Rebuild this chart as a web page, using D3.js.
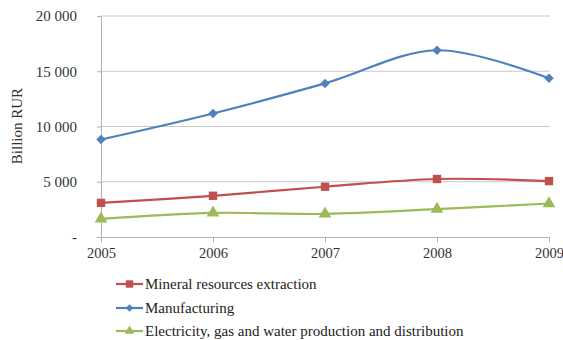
<!DOCTYPE html>
<html><head><meta charset="utf-8">
<script src="https://cdn.jsdelivr.net/npm/d3@7"></script>
<style>body{margin:0;background:#fff;}</style>
</head><body>
<svg id="c" width="563" height="340" font-family="Liberation Serif">
<text transform="translate(22,126) rotate(-90)" text-anchor="middle" font-family="Liberation Serif" font-size="15" fill="#333">Billion RUR</text>
</svg>
<script>
const years = ["2005","2006","2007","2008","2009"];
const mineral = [3090, 3730, 4550, 5250, 5060];
const manufacturing = [8820, 11180, 13900, 16900, 14360];
const electricity = [1640, 2180, 2090, 2520, 3030];
const yTicks = [0, 5000, 10000, 15000, 20000];
const seriesNames = ["Mineral resources extraction", "Manufacturing", "Electricity, gas and water production and distribution"];
const seriesColors = ["#C0504D", "#4F81BD", "#9BBB59"];

const FF = "Liberation Serif";
const svg = d3.select("#c");
const pL = 101, pR = 549, pT = 16, pB = 237;
const x = d3.scalePoint().domain(years).range([pL, pR]);
const y = d3.scaleLinear().domain([0, 20000]).range([pB, pT]);
const fmt = v => v === 0 ? "-" : d3.format(",")(v).replace(",", " ");
const shapes = [
  {type: d3.symbolSquare, rot: 0},
  {type: d3.symbolSquare, rot: 45},
  {type: d3.symbolTriangle, rot: 0}
];

svg.append("g").selectAll("line").data(yTicks.filter(d=>d>0)).join("line")
  .attr("x1", pL).attr("x2", pR + 1)
  .attr("y1", d => y(d)).attr("y2", d => y(d))
  .attr("stroke", "#c8c8c8").attr("stroke-width", 1.2);

const ya = svg.append("g").attr("transform", `translate(${pL},0)`)
  .call(d3.axisLeft(y).tickValues(yTicks).tickSize(4).tickPadding(20).tickFormat(fmt))
  .attr("font-family", FF).style("font-family", FF);
ya.select(".domain").attr("stroke", "#b0b0b0");
ya.selectAll(".tick line").attr("stroke", "#b0b0b0");
ya.selectAll("text").attr("font-size", 15).attr("fill", "#333").attr("font-family", FF).style("font-family", FF);

const xa = svg.append("g").attr("transform", `translate(0,${pB})`)
  .call(d3.axisBottom(x).tickSize(5).tickPadding(6).tickSizeOuter(0))
  .attr("font-family", FF).style("font-family", FF);
xa.select(".domain").attr("stroke", "#b0b0b0").attr("d", `M${pL},0.5H${pR}`);
xa.selectAll(".tick line").attr("stroke", "#b0b0b0");
xa.selectAll("text").attr("font-size", 14.5).attr("fill", "#333").attr("font-family", FF).style("font-family", FF);

const data = [mineral, manufacturing, electricity];
const line = d3.line().x((d,i) => x(years[i])).y(d => y(d)).curve(d3.curveCatmullRom.alpha(0.5));
const sizes = [70, 45, 70];

data.forEach((vals, k) => {
  svg.append("path").datum(vals).attr("d", line).attr("fill", "none")
    .attr("stroke", seriesColors[k]).attr("stroke-width", 2.2);
});
data.forEach((vals, k) => {
  svg.append("g").selectAll("path").data(vals).join("path")
    .attr("transform", (d,i) => `translate(${x(years[i])},${y(d)}) rotate(${shapes[k].rot})`)
    .attr("d", d3.symbol().type(shapes[k].type).size(sizes[k]))
    .attr("fill", seriesColors[k]);
});

const ly = [284, 308, 331];
seriesNames.forEach((name, k) => {
  const g = svg.append("g").attr("transform", `translate(116,${ly[k]})`);
  g.append("line").attr("x1", 0).attr("x2", 27).attr("stroke", seriesColors[k]).attr("stroke-width", 2.2);
  g.append("path").attr("transform", `translate(13.5,0) rotate(${shapes[k].rot})`)
    .attr("d", d3.symbol().type(shapes[k].type).size(k===0?55:(k===1?28:40))).attr("fill", seriesColors[k]);
  g.append("text").attr("x", 29).attr("dy", "0.35em").attr("font-size", 15).attr("fill", "#222")
    .attr("font-family", FF).style("font-family", FF).text(name);
});
</script>
</body></html>
